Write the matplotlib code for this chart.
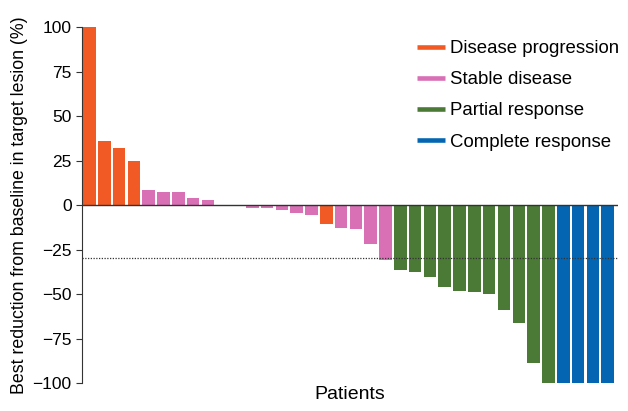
import matplotlib
matplotlib.use("Agg")
import matplotlib.pyplot as plt
from matplotlib.lines import Line2D

plt.rcParams['font.family'] = ['Liberation Sans', 'DejaVu Sans']

# best change in target lesion per patient (%), sorted
values = [100, 36, 32, 25, 8.5, 7.2, 7.2, 4.2, 3.0, 0, 0,
          -1.9, -1.9, -2.5, -4.6, -5.3, -10.5, -13, -13.4, -21.8, -31,
          -36.4, -37.6, -40.2, -46.2, -48, -49.1, -49.9, -59.2, -66.3, -88.7, -100,
          -100, -100, -100, -100]
responses = ['PD', 'PD', 'PD', 'PD', 'SD', 'SD', 'SD', 'SD', 'SD', 'SD', 'SD',
             'SD', 'SD', 'SD', 'SD', 'SD', 'PD', 'SD', 'SD', 'SD', 'SD',
             'PR', 'PR', 'PR', 'PR', 'PR', 'PR', 'PR', 'PR', 'PR', 'PR', 'PR',
             'CR', 'CR', 'CR', 'CR']

categories = ['PD', 'SD', 'PR', 'CR']
labels = ['Disease progression', 'Stable disease', 'Partial response', 'Complete response']
colors = {'PD': '#f15a24', 'SD': '#d96fb5', 'PR': '#4a7a35', 'CR': '#0466b2'}

fig = plt.figure(figsize=(6.28, 4.11), dpi=100)
ax = fig.add_axes([0.1306, 0.068, 0.8535, 0.866])

x = list(range(len(values)))
ax.bar(x, values, width=0.85, color=[colors[r] for r in responses], linewidth=0)

ax.axhline(0, color='#333333', lw=1)
ax.axhline(-30, color='#333333', lw=0.9, ls=(0, (1, 1.2)))

ax.set_xlim(-0.5, 35.7)
ax.set_ylim(-100, 100)
ax.set_yticks([100, 75, 50, 25, 0, -25, -50, -75, -100])
ax.set_xticks([])
for s in ['top', 'right', 'bottom']:
    ax.spines[s].set_visible(False)
ax.spines['left'].set_color('#333333')
ax.tick_params(axis='y', direction='out', length=4.5, color='#333333', labelsize=12.5, pad=3)

ax.set_ylabel('Best reduction from baseline in target lesion (%)', fontsize=12.8, labelpad=3)
ax.set_xlabel('Patients', fontsize=14, labelpad=2)

handles = [Line2D([0], [0], color=colors[c], lw=3.3, solid_capstyle='butt') for c in categories]
ax.legend(handles, labels, loc='upper left', bbox_to_anchor=(417 / 628, 1 - 40 / 411),
          bbox_transform=fig.transFigure, frameon=False, borderpad=0, borderaxespad=0,
          fontsize=13.4, handlelength=1.5, handletextpad=0.3, labelspacing=0.76)

fig.savefig('out.png', dpi=100)
